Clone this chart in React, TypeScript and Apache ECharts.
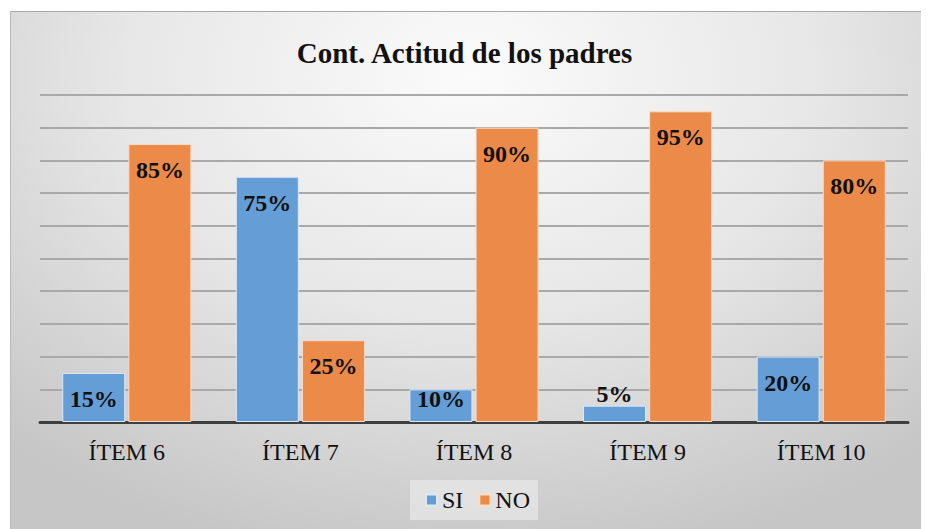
import React, { useEffect, useRef } from "react";
import * as echarts from "echarts";

const categories = ["ÍTEM 6", "ÍTEM 7", "ÍTEM 8", "ÍTEM 9", "ÍTEM 10"];
const siValues = [15, 75, 10, 5, 20];
const noValues = [85, 25, 90, 95, 80];
const seriesNames = ["SI", "NO"];
const titleText = "Cont. Actitud de los padres";

const FONT = "Liberation Serif";

function labelFor(v: number) {
  // Excel-like inside-end labels: very short bars push the label up/out
  if (v < 8) {
    return { value: v, label: { position: "top", distance: 0 } };
  }
  if (v < 13) {
    return { value: v, label: { position: "insideTop", distance: -2 } };
  }
  return v;
}

export default function App() {
  const ref = useRef<HTMLDivElement>(null);
  useEffect(() => {
    if (!ref.current) return;
    const chart = echarts.init(ref.current, null, { renderer: "svg" });
    const barLabel = {
      show: true,
      position: "insideTop",
      distance: 14,
      formatter: "{c}%",
      fontFamily: FONT,
      fontWeight: "bold",
      fontSize: 24,
      color: "#111",
    };
    chart.setOption({
      animation: false,
      title: {
        text: titleText,
        left: "center",
        top: 33,
        textStyle: {
          fontFamily: FONT,
          fontWeight: "bold",
          fontSize: 29,
          color: "#111",
        },
      },
      legend: {
        data: seriesNames,
        left: 410,
        top: 480,
        padding: [8, 8, 8, 15],
        backgroundColor: "rgba(240,240,240,0.55)",
        itemWidth: 11,
        itemHeight: 11,
        itemGap: 15,
        icon: "rect",
        textStyle: { fontFamily: FONT, fontSize: 24, color: "#111" },
      },
      grid: { left: 40, right: 21, top: 95, bottom: 107 },
      xAxis: {
        type: "category",
        data: categories,
        axisLine: { show: true, lineStyle: { color: "#3f3f3f", width: 3 } },
        axisTick: { show: false },
        axisLabel: {
          fontFamily: FONT,
          fontSize: 24,
          color: "#111",
          margin: 18,
        },
      },
      yAxis: {
        type: "value",
        min: 0,
        max: 100,
        interval: 10,
        axisLabel: { show: false },
        axisLine: { show: false },
        axisTick: { show: false },
        splitLine: { lineStyle: { color: "#a9a9a9", width: 2 } },
      },
      series: [
        {
          name: seriesNames[0],
          type: "bar",
          data: siValues.map(labelFor),
          barWidth: 63,
          barGap: "5%",
          itemStyle: { color: "#659ed6", borderColor: "#dce9f6", borderWidth: 1 },
          label: barLabel,
        },
        {
          name: seriesNames[1],
          type: "bar",
          data: noValues.map(labelFor),
          barWidth: 63,
          itemStyle: { color: "#eb8a49", borderColor: "#f8dcc8", borderWidth: 1 },
          label: barLabel,
        },
      ],
    });
    return () => chart.dispose();
  }, []);
  return (
    <div
      style={{
        margin: "-8px 0 0 -8px",
        width: 929,
        height: 529,
        background: "#ffffff",
        position: "relative",
        overflow: "hidden",
      }}
    >
      <div
        style={{
          position: "absolute",
          left: 10,
          top: 11,
          width: 919,
          height: 518,
          borderTop: "1.5px solid #a8a8a8",
          borderLeft: "1px solid #b8b8b8",
          background:
            "radial-gradient(ellipse 75% 95% at 50% 12%, #fbfbfb 0%, #e7e7e7 50%, #c6c6c6 100%)",
        }}
      />
      <div ref={ref} style={{ position: "absolute", left: 0, top: 0, width: 929, height: 529 }} />
    </div>
  );
}
